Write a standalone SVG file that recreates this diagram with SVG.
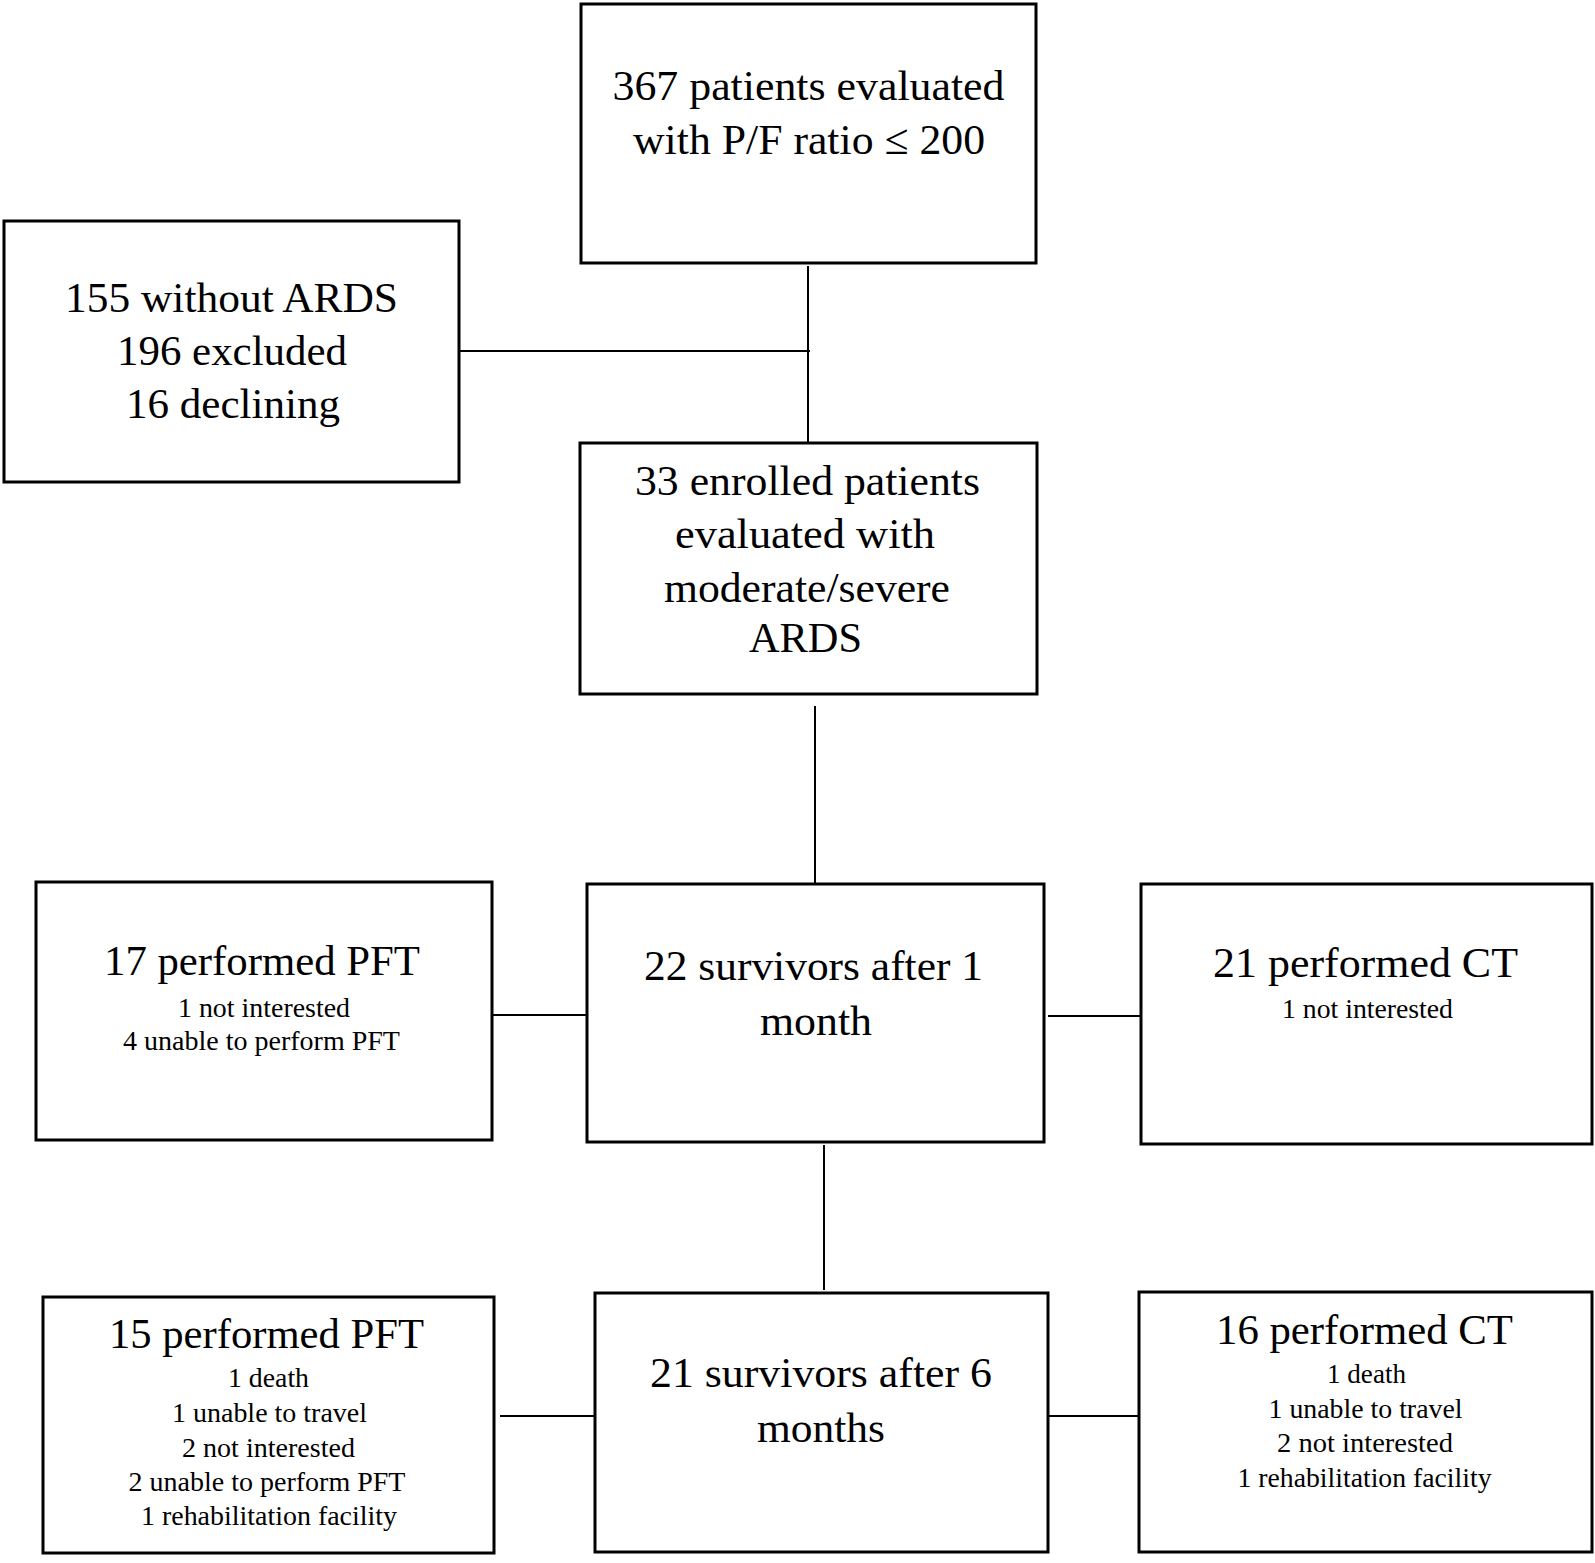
<svg xmlns="http://www.w3.org/2000/svg" width="1595" height="1563" viewBox="0 0 1595 1563">
<style>
.box{fill:#fff;stroke:#000;stroke-width:3}
.conn line{stroke:#000;stroke-width:2}
text{font-family:"Liberation Serif","Times New Roman",serif;fill:#000;text-anchor:middle}
.big{font-size:43px}
.mid{font-size:42px}
.sm{font-size:27px}
</style>
<rect width="1595" height="1563" fill="#fff"/>
<g class="conn" id="connectors">
<line x1="808" y1="266" x2="808" y2="442"/>
<line x1="460" y1="351" x2="810" y2="351"/>
<line x1="815" y1="706" x2="815" y2="883"/>
<line x1="492" y1="1015" x2="588" y2="1015"/>
<line x1="1048" y1="1016" x2="1144" y2="1016"/>
<line x1="824" y1="1145" x2="824" y2="1290"/>
<line x1="500" y1="1416" x2="595" y2="1416"/>
<line x1="1048" y1="1416" x2="1146" y2="1416"/>
</g>
<g id="n1">
<rect class="box" x="581" y="4" width="455" height="259"/>
<text class="big" x="808.5" y="100" textLength="392" lengthAdjust="spacingAndGlyphs">367 patients evaluated</text>
<text class="big" x="809" y="154" textLength="352" lengthAdjust="spacingAndGlyphs">with P/F ratio ≤ 200</text>
</g>
<g id="n2">
<rect class="box" x="4" y="221" width="455" height="261"/>
<text class="big" x="231.5" y="312" textLength="333" lengthAdjust="spacingAndGlyphs">155 without ARDS</text>
<text class="big" x="232" y="365" textLength="230" lengthAdjust="spacingAndGlyphs">196 excluded</text>
<text class="big" x="233" y="418" textLength="214" lengthAdjust="spacingAndGlyphs">16 declining</text>
</g>
<g id="n3">
<rect class="box" x="580" y="443" width="457" height="251"/>
<text class="big" x="807.5" y="495" textLength="345" lengthAdjust="spacingAndGlyphs">33 enrolled patients</text>
<text class="big" x="805" y="548" textLength="260" lengthAdjust="spacingAndGlyphs">evaluated with</text>
<text class="big" x="807" y="602" textLength="286" lengthAdjust="spacingAndGlyphs">moderate/severe</text>
<text class="big" x="805.5" y="652" textLength="113" lengthAdjust="spacingAndGlyphs">ARDS</text>
</g>
<g id="n4">
<rect class="box" x="36" y="882" width="456" height="258"/>
<text class="mid" x="262" y="975" textLength="316" lengthAdjust="spacingAndGlyphs">17 performed PFT</text>
<text class="sm" x="264" y="1017" textLength="172" lengthAdjust="spacingAndGlyphs">1 not interested</text>
<text class="sm" x="261.5" y="1050" textLength="277" lengthAdjust="spacingAndGlyphs">4 unable to perform PFT</text>
</g>
<g id="n5">
<rect class="box" x="587" y="884" width="457" height="258"/>
<text class="big" x="813.5" y="980" textLength="339" lengthAdjust="spacingAndGlyphs">22 survivors after 1</text>
<text class="big" x="816" y="1035" textLength="112" lengthAdjust="spacingAndGlyphs">month</text>
</g>
<g id="n6">
<rect class="box" x="1141" y="884" width="451" height="260"/>
<text class="mid" x="1365.5" y="977" textLength="305" lengthAdjust="spacingAndGlyphs">21 performed CT</text>
<text class="sm" x="1367.5" y="1018" textLength="171" lengthAdjust="spacingAndGlyphs">1 not interested</text>
</g>
<g id="n7">
<rect class="box" x="43" y="1297" width="451" height="256"/>
<text class="mid" x="266.5" y="1348" textLength="315" lengthAdjust="spacingAndGlyphs">15 performed PFT</text>
<text class="sm" x="268.5" y="1387" textLength="81" lengthAdjust="spacingAndGlyphs">1 death</text>
<text class="sm" x="269.5" y="1422" textLength="195" lengthAdjust="spacingAndGlyphs">1 unable to travel</text>
<text class="sm" x="268.5" y="1457" textLength="173" lengthAdjust="spacingAndGlyphs">2 not interested</text>
<text class="sm" x="267" y="1491" textLength="277" lengthAdjust="spacingAndGlyphs">2 unable to perform PFT</text>
<text class="sm" x="269" y="1525" textLength="256" lengthAdjust="spacingAndGlyphs">1 rehabilitation facility</text>
</g>
<g id="n8">
<rect class="box" x="595" y="1293" width="453" height="259"/>
<text class="big" x="821" y="1387" textLength="342" lengthAdjust="spacingAndGlyphs">21 survivors after 6</text>
<text class="big" x="821" y="1442" textLength="128" lengthAdjust="spacingAndGlyphs">months</text>
</g>
<g id="n9">
<rect class="box" x="1139" y="1292" width="453" height="260"/>
<text class="mid" x="1364.5" y="1344" textLength="297" lengthAdjust="spacingAndGlyphs">16 performed CT</text>
<text class="sm" x="1366.5" y="1383" textLength="79" lengthAdjust="spacingAndGlyphs">1 death</text>
<text class="sm" x="1365.5" y="1418" textLength="194" lengthAdjust="spacingAndGlyphs">1 unable to travel</text>
<text class="sm" x="1365" y="1452" textLength="176" lengthAdjust="spacingAndGlyphs">2 not interested</text>
<text class="sm" x="1364.5" y="1487" textLength="254" lengthAdjust="spacingAndGlyphs">1 rehabilitation facility</text>
</g>
</svg>
